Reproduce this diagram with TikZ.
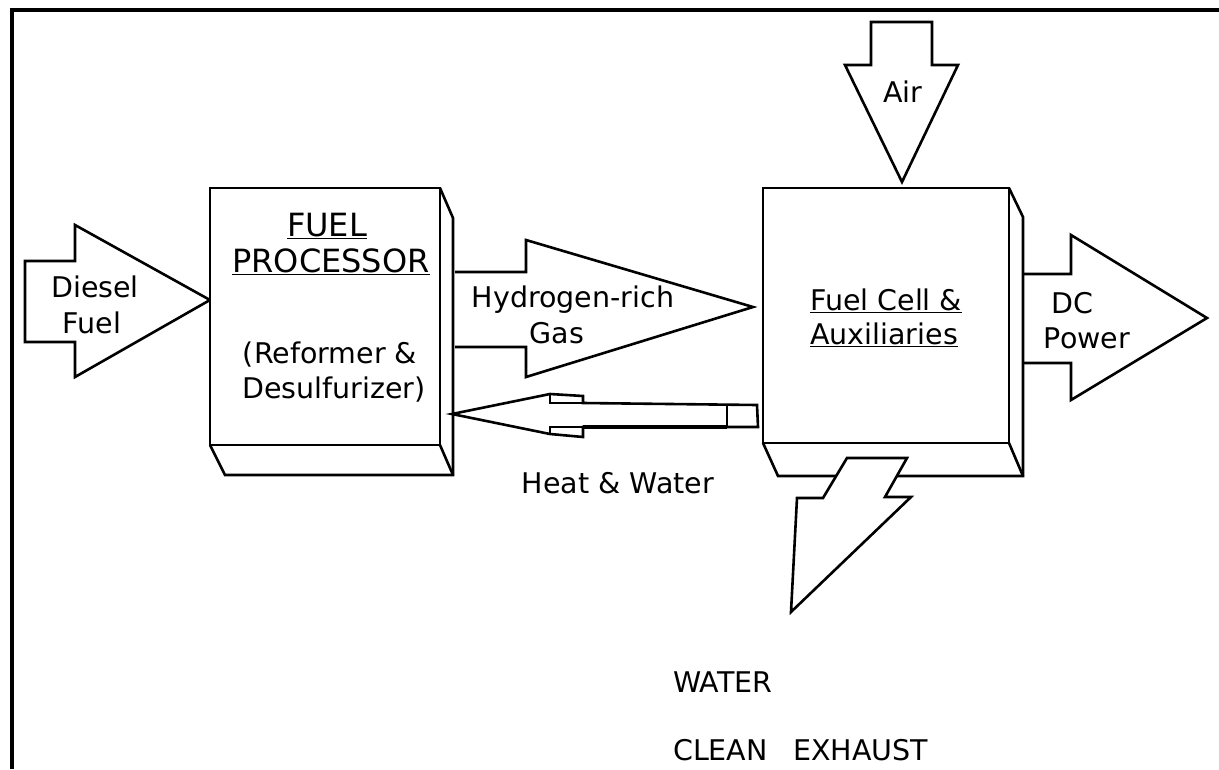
\documentclass[tikz,border=0pt]{standalone}
\usepackage{fontspec}
\setmainfont{DejaVu Sans}
\usetikzlibrary{calc}
\newcommand{\lblsize}{\fontsize{28.5}{34}\selectfont}
\newcommand{\ttlsize}{\fontsize{32}{36}\selectfont}
\tikzset{
  edge/.style={line width=2.6pt,line join=miter},
  unitbox/.style={draw,edge,fill=white,inner sep=0pt,outer sep=0pt},
  flow/.style={draw,edge,fill=white},
  lbl/.style={font=\lblsize,inner sep=0pt,anchor=base},
  ttl/.style={font=\ttlsize,inner sep=0pt,anchor=base},
}

\begin{document}
\begin{tikzpicture}[x=1pt,y=-1pt]
  \useasboundingbox (0,0) rectangle (1219,769);
  % frame
  \draw[line width=4pt] (1219,10) -- (12,10) -- (12,769);

  % flow arrows
  \draw[flow] (25,261) -- (75,261) -- (75,225) -- (210,300) -- (75,377) -- (75,342) -- (25,342) -- cycle;
  \draw[flow] (455,272) -- (526,272) -- (526,240) -- (753,307) -- (526,377) -- (526,347) -- (455,347);
  \draw[flow] (1023,274) -- (1071,274) -- (1071,235) -- (1207,318) -- (1071,400) -- (1071,363) -- (1023,363);
  \draw[flow] (871,22) -- (932,22) -- (932,65) -- (958,65) -- (902,182) -- (845,65) -- (871,65) -- cycle;
  % return arrow (heat and water)
  \draw[flow] (452,414) -- (550,394) -- (583,396) -- (583,403) -- (757,405) -- (758,427)
    -- (583,427) -- (583,437) -- (550,434) -- cycle;
  \draw[edge] (550,394) -- (550,403) -- (583,403);
  \draw[edge] (550,434) -- (550,427) -- (583,427);
  \draw[edge] (727,405) -- (727,427);
  \draw[line width=4pt] (583,427) -- (727,427);

  % units
  \node[unitbox,minimum width=230pt,minimum height=257pt] (fp) at (325,316.5) {};
  \draw[edge] (fp.north east) -- ++(13,30) -- ++(0,257) -- ($(fp.south west)+(15,30)$) -- (fp.south west);
  \draw[edge] (fp.south east) -- ++(13,30);
  \node[unitbox,minimum width=246pt,minimum height=255pt] (fc) at (886,315.5) {};
  \draw[edge] (fc.north east) -- ++(14,29) -- ++(0,259) -- ($(fc.south west)+(15,33)$) -- (fc.south west);
  \draw[edge] (fc.south east) -- ++(14,33);

  % exhaust
  \draw[flow] (847,458) -- (907,458) -- (885,497) -- (911,497) -- (791,612) -- (797,498) -- (823,498) -- cycle;

  % texts
  \node[lbl] (d1) at (95,297) {Diesel};
  \node[lbl] (d2) at (92,333) {Fuel};
  \node[ttl] (p1) at (327,236) {\underline{FUEL}};
  \node[ttl] (p2) at (331,272) {\underline{PROCESSOR}};
  \node[lbl] (p3) at (330,363) {(Reformer \&};
  \node[lbl] (p4) at (334,398) {Desulfurizer)};
  \node[lbl] (h1) at (573,307) {Hydrogen-rich};
  \node[lbl] (h2) at (557,343) {Gas};
  \node[lbl] (hw) at (618,493) {Heat \& Water};
  \node[lbl,anchor=base west] (c1) at (810,310) {\underline{Fuel Cell \&}};
  \node[lbl,anchor=base west] (c2) at (810,344) {\underline{Auxiliaries}};
  \node[lbl] (air) at (903,102) {Air};
  \node[lbl] (dc1) at (1072,313) {DC};
  \node[lbl] (dc2) at (1087,348) {Power};
  \node[lbl,anchor=base west] (w1) at (673,692) {WATER};
  \node[lbl,anchor=base west] (w2) at (673,760) {CLEAN\hspace{0.9em}EXHAUST};
\end{tikzpicture}
\end{document}
